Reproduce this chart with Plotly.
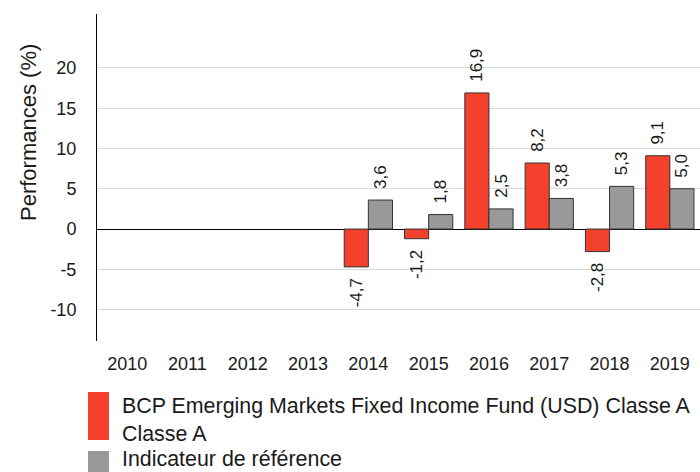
import plotly.graph_objects as go

years = ["2010", "2011", "2012", "2013", "2014", "2015", "2016", "2017", "2018", "2019"]
fund = [None, None, None, None, -4.7, -1.2, 16.9, 8.2, -2.8, 9.1]
bench = [None, None, None, None, 3.6, 1.8, 2.5, 3.8, 5.3, 5.0]
fund_name_lines = ["BCP Emerging Markets Fixed Income Fund (USD) Classe A", "Classe A"]
bench_name = "Indicateur de référence"
y_ticks = [-10, -5, 0, 5, 10, 15, 20]
y_ticktext = ["-10", "-5", "0", "5", "10", "15", "20"]

RED = "#F4412D"
GRAY = "#999999"
FONT = "Liberation Sans, Arial, sans-serif"
TXT = "#1a1a1a"

W, H = 700, 472
L, R, T, B = 97, 0, 14, 131
PW, PH = W - L - R, H - T - B

def px2x(px):
    return (px - L) / PW

def px2y(py):
    return (H - B - py) / PH

def labels(vals):
    out = []
    for v in vals:
        if v is None:
            out.append("")
        else:
            s = f"{v:.1f}".replace(".", ",")
            pad = "\u00a0\u2009"
            out.append(pad + s if v >= 0 else s + pad)
    return out

fig = go.Figure()
for vals, name, color in [(fund, " ".join(fund_name_lines), RED), (bench, bench_name, GRAY)]:
    fig.add_trace(go.Bar(
        x=years, y=vals, name=name, marker=dict(color=color, line=dict(color="#333333", width=1)),
        text=labels(vals), textposition="outside", textangle=-90, constraintext="none", cliponaxis=False,
        textfont=dict(family=FONT, size=17, color=TXT), showlegend=False, hoverinfo="x+y"))

shapes = [
    dict(type="rect", xref="paper", yref="paper", x0=px2x(88), x1=px2x(109), y0=px2y(440), y1=px2y(392),
         fillcolor=RED, line=dict(width=0), layer="above"),
    dict(type="rect", xref="paper", yref="paper", x0=px2x(88), x1=px2x(109), y0=px2y(472), y1=px2y(451),
         fillcolor=GRAY, line=dict(width=0), layer="above"),
]
annotations = [
    dict(text="Performances (%)", xref="paper", yref="paper", x=px2x(28), y=px2y(133), textangle=-90,
         showarrow=False, font=dict(family=FONT, size=22, color=TXT), xanchor="center", yanchor="middle"),
]
for text, py in [(fund_name_lines[0], 406), (fund_name_lines[1], 434), (bench_name, 459)]:
    annotations.append(dict(text=text, xref="paper", yref="paper", x=px2x(121), y=px2y(py), showarrow=False,
                            xanchor="left", yanchor="middle", borderpad=0,
                            font=dict(family=FONT, size=21.4, color=TXT)))

fig.update_layout(
    width=W, height=H, margin=dict(l=L, r=R, t=T, b=B, pad=0),
    paper_bgcolor="white", plot_bgcolor="white",
    barmode="group", bargap=0.2, bargroupgap=0.0,
    separators=", ",
    font=dict(family=FONT, size=18, color=TXT),
    shapes=shapes, annotations=annotations,
    xaxis=dict(type="category", showgrid=False, showline=False, zeroline=False, ticks="",
               tickfont=dict(family=FONT, size=18, color=TXT), ticklabelstandoff=10),
    yaxis=dict(range=[-13.9, 26.7], tickvals=y_ticks, ticktext=y_ticktext, showgrid=True,
               gridcolor="#d9d9d9", gridwidth=1,
               zeroline=True, zerolinecolor="black", zerolinewidth=1,
               showline=True, linecolor="black", linewidth=1, ticks="",
               tickfont=dict(family=FONT, size=18, color=TXT), ticklabelstandoff=16),
)

fig.write_html("out.html", config={"displayModeBar": False},
               post_script="document.body.style.margin='0';document.body.style.overflow='hidden';")
